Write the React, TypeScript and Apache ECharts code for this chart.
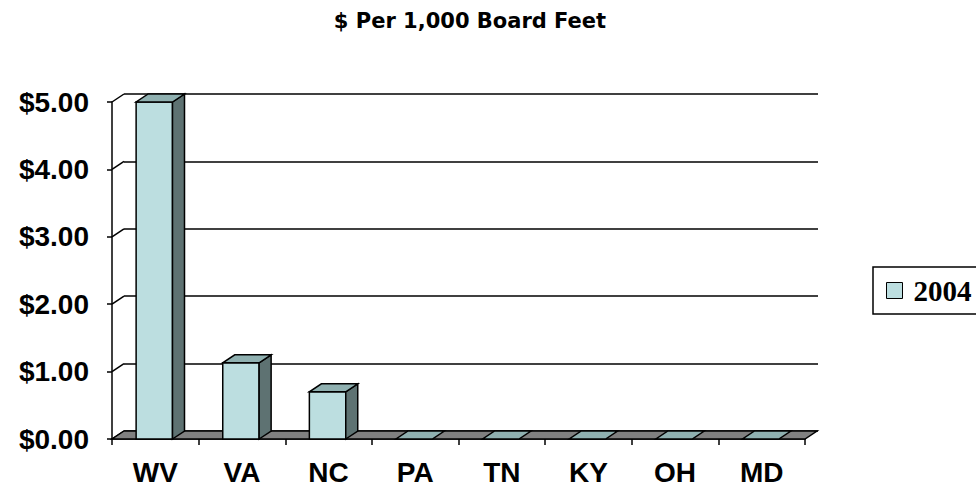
import React, { useEffect, useRef } from "react";
import * as echarts from "echarts";

const categories = ["WV", "VA", "NC", "PA", "TN", "KY", "OH", "MD"];
const values2004 = [5.0, 1.13, 0.7, 0, 0, 0, 0, 0];
const yTicks = [0, 1, 2, 3, 4, 5];
const seriesName = "2004";
const titleText = "$ Per 1,000 Board Feet";

const DX = 12;
const DY = -8;
const FRONT = "#BCDEE0";
const SIDE = "#5E7272";
const TOP = "#8FB0B0";
const FLOOR = "#808080";
const LINE = "#000000";

export default function App() {
  const ref = useRef<HTMLDivElement>(null);
  useEffect(() => {
    if (!ref.current) return;
    const chart = echarts.init(ref.current, null, { renderer: "svg" });
    const axisFont = "Liberation Sans";
    const option: any = {
      animation: false,
      backgroundColor: "#ffffff",
      title: {
        text: titleText,
        left: 470,
        top: 10,
        textAlign: "center",
        padding: 0,
        textStyle: {
          fontFamily: "DejaVu Sans",
          fontWeight: "bold",
          fontSize: 21,
          color: "#000",
        },
      },
      legend: {
        data: [seriesName],
        left: 873,
        top: 267,
        orient: "vertical",
        padding: [9, 14, 9, 13],
        borderColor: "#000",
        borderWidth: 1.5,
        itemWidth: 16,
        itemHeight: 16,
        icon: "rect",
        itemStyle: { borderColor: "#000", borderWidth: 1 },
        textStyle: {
          fontFamily: "Liberation Serif",
          fontWeight: "bold",
          fontSize: 29,
          color: "#000",
          padding: [0, 0, 0, 6],
        },
      },
      grid: [
        { left: 112, right: 171, top: 102, bottom: 49 },
        { left: 124, right: 158, top: 94, bottom: 57 },
      ],
      xAxis: [
        {
          type: "category",
          gridIndex: 0,
          data: categories,
          boundaryGap: true,
          axisLine: { show: true, lineStyle: { color: LINE, width: 1.5 } },
          axisTick: { show: true, length: 6, lineStyle: { color: LINE, width: 1.5 } },
          axisLabel: {
            margin: 19,
            fontFamily: axisFont,
            fontWeight: "bold",
            fontSize: 28,
            color: "#000",
          },
          splitLine: { show: false },
        },
        {
          type: "category",
          gridIndex: 1,
          data: categories,
          show: false,
        },
      ],
      yAxis: [
        {
          type: "value",
          gridIndex: 0,
          min: 0,
          max: 5,
          interval: 1,
          axisLine: { show: true, lineStyle: { color: LINE, width: 1.5 } },
          axisTick: { show: true, length: 5, lineStyle: { color: LINE, width: 1.5 } },
          axisLabel: {
            margin: 23,
            fontFamily: axisFont,
            fontWeight: "bold",
            fontSize: 28,
            color: "#000",
            formatter: (v: number) => "$" + v.toFixed(2),
          },
          splitLine: { show: false },
        },
        {
          type: "value",
          gridIndex: 1,
          min: 0,
          max: 5,
          interval: 1,
          axisLine: { show: false },
          axisTick: { show: false },
          axisLabel: { show: false },
          splitLine: { show: true, lineStyle: { color: LINE, width: 1.5 } },
        },
      ],
      series: [
        {
          type: "custom",
          name: "sidewall",
          xAxisIndex: 0,
          yAxisIndex: 0,
          z: 1,
          clip: false,
          silent: true,
          data: yTicks.map((v) => [0, v]),
          renderItem: (params: any, api: any) => {
            const cs = params.coordSys;
            const y = api.coord([0, api.value(1)])[1];
            return {
              type: "line",
              shape: { x1: cs.x, y1: y, x2: cs.x + DX, y2: y + DY },
              style: { stroke: LINE, lineWidth: 1.5 },
            };
          },
        },
        {
          type: "custom",
          name: "floor",
          xAxisIndex: 0,
          yAxisIndex: 0,
          z: 2,
          clip: false,
          silent: true,
          data: [[0, 0]],
          renderItem: (params: any, api: any) => {
            const cs = params.coordSys;
            const yb = api.coord([0, 0])[1];
            return {
              type: "polygon",
              shape: {
                points: [
                  [cs.x, yb],
                  [cs.x + cs.width, yb],
                  [cs.x + cs.width + DX, yb + DY],
                  [cs.x + DX, yb + DY],
                ],
              },
              style: { fill: FLOOR, stroke: LINE, lineWidth: 1.5 },
            };
          },
        },
        {
          type: "custom",
          name: seriesName,
          xAxisIndex: 0,
          yAxisIndex: 0,
          z: 3,
          clip: false,
          itemStyle: { color: FRONT },
          data: categories.map((c, i) => [i, values2004[i]]),
          renderItem: (params: any, api: any) => {
            const idx = api.value(0);
            const v = api.value(1);
            const base = api.coord([idx, 0]);
            const top = api.coord([idx, v]);
            const w = api.size([1, 0])[0] * 0.42;
            const x0 = base[0] - w / 2 - 1;
            const x1 = x0 + w;
            const yb = base[1];
            const yt = top[1];
            const children: any[] = [];
            if (v > 0) {
              children.push({
                type: "rect",
                shape: { x: x0, y: yt, width: w, height: yb - yt },
                style: { fill: FRONT, stroke: LINE, lineWidth: 1.5 },
              });
              children.push({
                type: "polygon",
                shape: {
                  points: [
                    [x1, yb],
                    [x1 + DX, yb + DY],
                    [x1 + DX, yt + DY],
                    [x1, yt],
                  ],
                },
                style: { fill: SIDE, stroke: LINE, lineWidth: 1.5 },
              });
            }
            children.push({
              type: "polygon",
              shape: {
                points: [
                  [x0, yt],
                  [x1, yt],
                  [x1 + DX, yt + DY],
                  [x0 + DX, yt + DY],
                ],
              },
              style: { fill: TOP, stroke: LINE, lineWidth: 1.5 },
            });
            return { type: "group", children };
          },
        },
      ],
    };
    chart.setOption(option);
    return () => chart.dispose();
  }, []);
  return (
    <div
      ref={ref}
      style={{ position: "fixed", left: 0, top: 0, width: 976, height: 488 }}
    />
  );
}
